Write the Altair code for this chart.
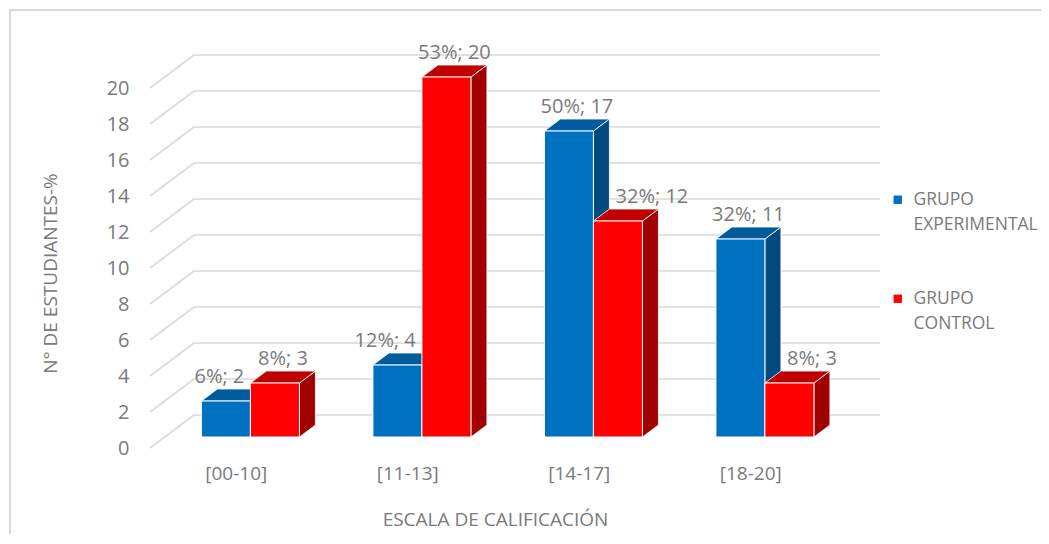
import altair as alt
import pandas as pd

# ---------------- data ----------------
categories = ["[00-10]", "[11-13]", "[14-17]", "[18-20]"]
series = ["GRUPO EXPERIMENTAL", "GRUPO CONTROL"]
experimental_n = [2, 4, 17, 11]
experimental_pct = [6, 12, 50, 32]
control_n = [3, 20, 12, 3]
control_pct = [8, 53, 32, 8]
y_ticks = list(range(0, 21, 2))

# ---------------- style / geometry (pixels) ----------------
FONT = "Open Sans"
TXT = "#7a7a7a"
GRID = "#d9d9d9"
FRONT = ["#0070c0", "#ff0000"]
TOP = ["#005a9e", "#c00000"]
SIDE = ["#004a80", "#a00000"]

CAT_PX = 171.5          # width of one category on the front plane
Y_PX = 18.0             # pixels per value unit
FLOOR_DX, FLOOR_DY = 44.0, 33.0
BAR_W = 49.0
BAR_FRONT_DY = 11.0
BAR_DEPTH_DY = 12.0
W = 4 * CAT_PX + FLOOR_DX
H = 395.0
LABEL_SIZE = 20
LABEL_GAP = 6.0

PAD_L, PAD_T = 142, 45
PAD_R = 1033 - PAD_L - int(W)
PAD_B = 526 - PAD_T - int(H)


def ux(p):
    return p / CAT_PX


def uy(p):
    return p / Y_PX


front_dx = BAR_FRONT_DY * FLOOR_DX / FLOOR_DY
depth_dx = BAR_DEPTH_DY * FLOOR_DX / FLOOR_DY

CW = {"%": 0.83, ";": 0.27, " ": 0.26}


def text_w(s):
    return sum(CW.get(c, 0.572) for c in s) * LABEL_SIZE


values = [experimental_n, control_n]
pcts = [experimental_pct, control_pct]

front_rows, side_rows, top_rows, label_rows = [], [], [], []
for i, cat in enumerate(categories):
    cx = (i + 0.5) * CAT_PX + front_dx
    edges = [(cx - BAR_W, cx), (cx, cx + BAR_W)]
    for s in range(2):
        v = values[s][i]
        xl, xr = edges[s]
        y0 = uy(BAR_FRONT_DY)
        y1 = y0 + v
        dy = uy(BAR_DEPTH_DY)
        bid = f"{i}-{s}"
        front_rows.append(dict(bar=bid, serie=series[s], x=ux(xl), x2=ux(xr), y=y0, y2=y1))
        side_rows.append(dict(bar=bid, serie=series[s], x=ux(xr), y=y0, y2=y1))
        side_rows.append(dict(bar=bid, serie=series[s], x=ux(xr + depth_dx), y=y0 + dy, y2=y1 + dy))
        top_rows.append(dict(bar=bid, serie=series[s], y=y1, x=ux(xl), x2=ux(xr)))
        top_rows.append(dict(bar=bid, serie=series[s], y=y1 + dy, x=ux(xl + depth_dx), x2=ux(xr + depth_dx)))
        # label placement (pixels), avoiding the taller neighbouring bar
        txt = f"{pcts[s][i]}%; {v}"
        w = text_w(txt)
        lc = (xl + xr + depth_dx) / 2
        other = values[1 - s][i]
        if s == 0 and other > v:
            lc = min(lc, xr - LABEL_GAP - w / 2)
        if s == 1 and other > v:
            lc = max(lc, xl + depth_dx + LABEL_GAP + w / 2)
        label_rows.append(dict(serie=series[s], x=ux(lc), y=y1 + dy, label=txt))

grid_rows = []
for v in y_ticks:
    grid_rows.append(dict(x=ux(FLOOR_DX), x2=ux(W), y=v + uy(FLOOR_DY), y2=v + uy(FLOOR_DY)))
    grid_rows.append(dict(x=0.0, x2=ux(FLOOR_DX), y=float(v), y2=v + uy(FLOOR_DY)))

front_df = pd.DataFrame(front_rows)
side_df = pd.DataFrame(side_rows)
top_df = pd.DataFrame(top_rows)
label_df = pd.DataFrame(label_rows)
grid_df = pd.DataFrame(grid_rows)

# ---------------- scales / axes ----------------
xs = alt.Scale(domain=[0, ux(W)], nice=False, zero=False)
ys = alt.Scale(domain=[0, uy(H)], nice=False, zero=False)

cat_js = "[" + ",".join(f"'{c}'" for c in categories) + "]"
x_axis = alt.Axis(
    values=[i + 0.5 for i in range(len(categories))],
    labelExpr=f"{cat_js}[floor(datum.value)]",
    domain=False, ticks=False, grid=False,
    labelFont=FONT, labelFontSize=19, labelColor=TXT, labelPadding=16,
    title="ESCALA DE CALIFICACIÓN", titleFont=FONT, titleFontSize=19,
    titleFontWeight="normal", titleColor=TXT, titlePadding=27,
    titleX=345, titleAnchor="middle",
)
y_axis = alt.Axis(
    values=y_ticks, domain=False, ticks=False, grid=False,
    labelFont=FONT, labelFontSize=20, labelColor=TXT, labelPadding=21,
    title="N° DE ESTUDIANTES-%", titleFont=FONT, titleFontSize=19,
    titleFontWeight="normal", titleColor=TXT,
    titleX=-100, titleY=220, titleAngle=-90, titleBaseline="middle", titleAlign="center",
)

X = lambda: alt.X("x:Q", scale=xs, axis=x_axis)
Y = lambda: alt.Y("y:Q", scale=ys, axis=y_axis, stack=None)

grid = alt.Chart(grid_df).mark_rule(color=GRID, strokeWidth=1.6).encode(
    x=X(), x2="x2:Q", y=Y(), y2="y2:Q"
)

side = alt.Chart(side_df).mark_area(stroke="white", strokeWidth=0.8, opacity=1).encode(
    x=X(), y=Y(), y2="y2:Q", detail="bar:N",
    color=alt.Color("serie:N", scale=alt.Scale(domain=series, range=SIDE), legend=None),
)

top = alt.Chart(top_df).mark_area(orient="horizontal", stroke="white", strokeWidth=0.8, opacity=1).encode(
    y=Y(), x=alt.X("x:Q", scale=xs, axis=x_axis, stack=None), x2="x2:Q", detail="bar:N",
    color=alt.Color("serie:N", scale=alt.Scale(domain=series, range=TOP), legend=None),
)

front = alt.Chart(front_df).mark_bar(stroke="white", strokeWidth=1).encode(
    x=X(), x2="x2:Q", y=Y(), y2="y2:Q",
    color=alt.Color(
        "serie:N",
        scale=alt.Scale(domain=series, range=FRONT),
        legend=alt.Legend(
            title=None, orient="none", legendX=739, legendY=138,
            symbolType="square", symbolSize=70, symbolStrokeWidth=0,
            labelFont=FONT, labelFontSize=17.5, labelColor=TXT, labelLimit=300,
            labelExpr="split(datum.label, ' ')", labelOffset=7,
            rowPadding=55, labelBaseline="middle",
        ),
    ),
)

labels = alt.Chart(label_df).mark_text(
    font=FONT, fontSize=LABEL_SIZE, color=TXT, align="center", baseline="middle", dy=-12
).encode(x=X(), y=Y(), text="label:N")

frame = alt.Chart(pd.DataFrame({"k": [0]})).mark_rect(
    fillOpacity=0, fill="white", stroke=GRID, strokeWidth=2
).encode(
    x=alt.value(-PAD_L + 2), x2=alt.value(W + PAD_R + 20),
    y=alt.value(-PAD_T + 2), y2=alt.value(H + PAD_B + 20),
)

chart = (
    alt.layer(grid, side, top, front, labels, frame)
    .resolve_scale(color="independent")
    .properties(
        width=W, height=H,
        padding={"left": PAD_L, "top": PAD_T, "right": PAD_R, "bottom": PAD_B},
        autosize=alt.AutoSizeParams(type="none"),
    )
    .configure(style={"guide-label": {"lineHeight": 25}})
    .configure_view(stroke="transparent")
)

chart.save("out.html", embed_options={"renderer": "svg", "actions": False})
